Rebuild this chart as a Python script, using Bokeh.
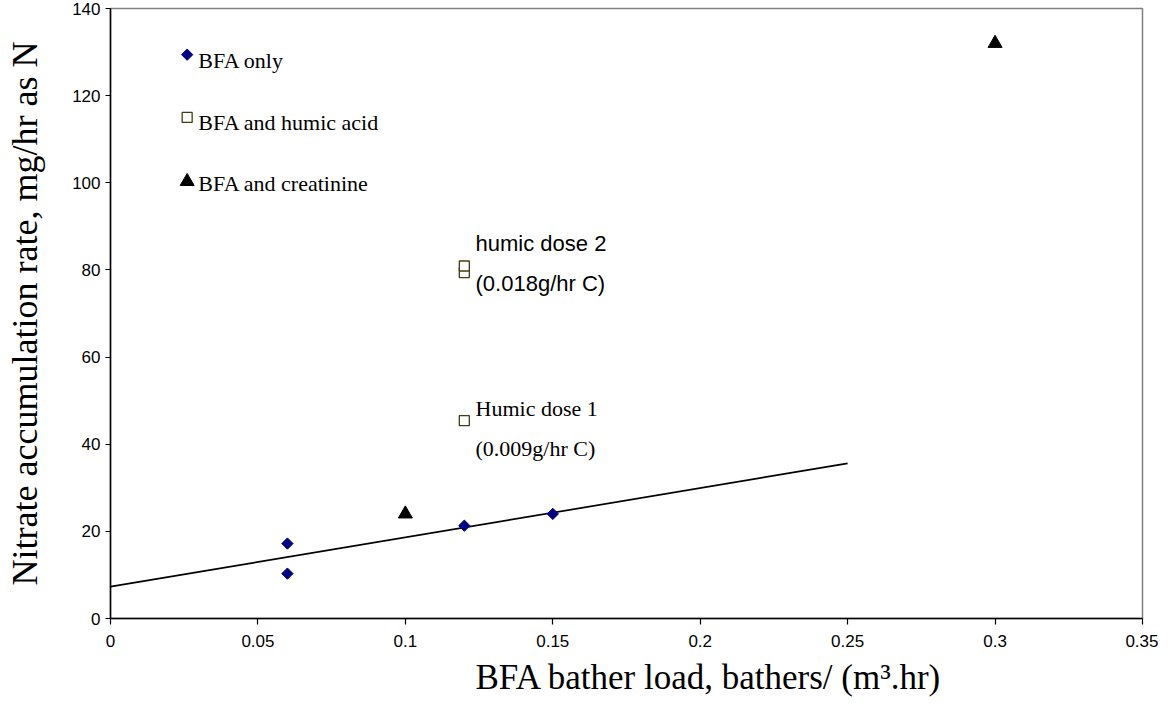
from bokeh.plotting import figure
from bokeh.models import Range1d, FixedTicker, Title
from bokeh.core.properties import value
from bokeh.embed import file_html
from bokeh.resources import INLINE

# Data
bfa_x = [0.06, 0.06, 0.12, 0.15]
bfa_y = [17.2, 10.3, 21.3, 24.0]
humic_x = [0.12, 0.12, 0.12]
humic_y = [45.4, 79.4, 80.9]
creat_x = [0.10, 0.30]
creat_y = [24.0, 132.0]

trend_x = [0.0, 0.25]
trend_y = [7.3, 35.6]

legend_x = [0.026, 0.026, 0.026]
legend_y = [129.4, 115.0, 100.3]
legend_text_x = [0.0298, 0.0298, 0.0298]
legend_text_y = [128.1, 113.9, 99.8]
legend_labels = ["BFA only", "BFA and humic acid", "BFA and creatinine"]

ann_arial_x = [0.1238, 0.1238]
ann_arial_y = [86.1, 76.9]
ann_arial_text = ["humic dose 2", "(0.018g/hr C)"]
ann_times_x = [0.1238, 0.1238]
ann_times_y = [48.2, 39.0]
ann_times_text = ["Humic dose 1", "(0.009g/hr C)"]

x_ticks = [0, 0.05, 0.1, 0.15, 0.2, 0.25, 0.3, 0.35]
x_tick_labels = ["0", "0.05", "0.1", "0.15", "0.2", "0.25", "0.3", "0.35"]
y_ticks = [0, 20, 40, 60, 80, 100, 120, 140]

x_title = "BFA bather load, bathers/ (m³.hr)"
y_title = "Nitrate accumulation rate, mg/hr as N"

SERIF = "Liberation Serif"
SANS = "Liberation Sans"

p = figure(width=1158, height=700, output_backend="svg", toolbar_location=None,
           x_range=Range1d(0, 0.35), y_range=Range1d(0, 140),
           frame_width=1032, frame_height=610,
           min_border_left=110, min_border_right=16, min_border_top=8, min_border_bottom=82)

p.xgrid.visible = False
p.ygrid.visible = False
p.outline_line_color = "#808080"
p.outline_line_width = 1.5
p.background_fill_color = "white"
p.border_fill_color = "white"

for ax, ticks in ((p.xaxis, x_ticks), (p.yaxis, y_ticks)):
    ax.ticker = FixedTicker(ticks=ticks)
    ax.minor_tick_line_color = None
    ax.major_tick_in = 0
    ax.axis_line_color = "black"
    ax.axis_line_width = 1.5
    ax.major_tick_line_color = "black"
    ax.major_tick_line_width = 1.2
    ax.major_label_text_font = SANS
    ax.major_label_text_font_size = "17px"
    ax.major_label_text_color = "black"
    ax.axis_label_text_font = SERIF
    ax.axis_label_text_font_style = "normal"
    ax.axis_label_text_color = "black"

p.xaxis.major_tick_out = 6
p.yaxis.major_tick_out = 5
p.xaxis.major_label_overrides = dict(zip(x_ticks, x_tick_labels))
p.xaxis.major_label_standoff = 10
p.yaxis.major_label_standoff = 5

p.yaxis.axis_label = y_title
p.yaxis.axis_label_text_font_size = "36px"
p.yaxis.axis_label_standoff = 24

xt = Title(text=x_title, align="left", offset=365, text_font=SERIF,
           text_font_size="35px", text_font_style="normal", text_color="black",
           standoff=13, text_line_height=0.9)
p.add_layout(xt, "below")

# Trendline
p.line(trend_x, trend_y, line_color="black", line_width=1.7)

# Series
p.scatter(bfa_x, bfa_y, marker="square", angle=0.785398, size=8,
          fill_color="#000080", line_color="#000080")
p.scatter(humic_x, humic_y, marker="square", size=10, fill_color="white",
          line_color="#3f3f10", line_width=1.3)
p.scatter(creat_x, creat_y, marker="triangle", size=14, fill_color="black", line_color="black")

# Legend-like markers drawn in the chart
p.scatter([legend_x[0]], [legend_y[0]], marker="square", angle=0.785398, size=8,
          fill_color="#000080", line_color="#000080")
p.scatter([legend_x[1]], [legend_y[1]], marker="square", size=10, fill_color="white",
          line_color="#3f3f10", line_width=1.3)
p.scatter([legend_x[2]], [legend_y[2]], marker="triangle", size=14,
          fill_color="black", line_color="black")

p.text(legend_text_x, legend_text_y, text=legend_labels,
       text_font=value(SERIF), text_font_size="22px", text_baseline="middle", text_color="black")

p.text(ann_arial_x, ann_arial_y, text=ann_arial_text, text_font=value(SANS),
       text_font_size="22px", text_baseline="middle", text_color="black")
p.text(ann_times_x, ann_times_y, text=ann_times_text, text_font=value(SERIF),
       text_font_size="22px", text_baseline="middle", text_color="black")

open("out.html", "w").write(file_html(p, INLINE))
